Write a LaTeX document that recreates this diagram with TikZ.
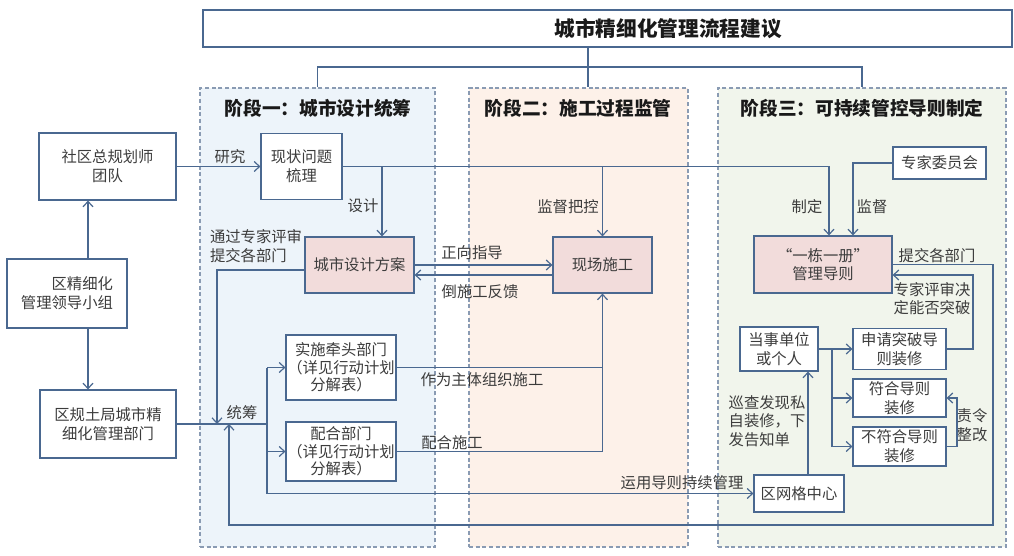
\documentclass[tikz,border=0pt]{standalone}
\usepackage{fontspec}
\setmainfont{Noto Sans CJK SC}
\usepackage{tikz}
\usetikzlibrary{arrows.meta}
\definecolor{lineblue}{HTML}{4A6890}
\definecolor{dashgrey}{HTML}{8A9BB3}
\definecolor{txtgrey}{HTML}{3C3C3C}
\definecolor{boxpink}{HTML}{F2DCDB}
\definecolor{stageblue}{HTML}{EDF4FA}
\definecolor{stagepeach}{HTML}{FDF1E9}
\definecolor{stagegreen}{HTML}{F1F5EC}

\begin{document}
\begin{tikzpicture}
[%%%%%%%%%%%%%%%%%%%%%%%%%%%%%%
x=0.75pt, y=-0.75pt,
every node/.style={text=txtgrey, font=\fontsize{11.5}{14}\selectfont},
box/.style={rectangle, draw=lineblue, line width=0.9pt, fill=white, align=center, inner sep=0pt},
pinkbox/.style={box, fill=boxpink},
tight/.style={font=\fontsize{11.5}{13}\selectfont},
stage/.style={rectangle, draw=dashgrey, dash pattern=on 3pt off 2pt, line width=0.8pt, inner sep=0pt, minimum width=#1, minimum height=344.25pt},
head/.style={font=\fontsize{14}{16}\selectfont\bfseries, text=black!90},
lbl/.style={align=left, inner sep=0pt},
link/.style={draw=lineblue, line width=0.9pt},
arr/.style={link, -{Straight Barb[length=4pt,width=7.5pt]}},
]%%%%%%%%%%%%%%%%%%%%%%%%%%%%%%

\useasboundingbox (0,0) rectangle (1014,556);

% stages
\node[stage=176.25pt, fill=stageblue] (p1) at (317.5,317.5) {};
\node[stage=164.25pt, fill=stagepeach] (p2) at (578.5,317.5) {};
\node[stage=216pt, fill=stagegreen] (p3) at (862,317.5) {};
\node[head] (h1) at (318,108) {阶段一：城市设计统筹};
\node[head] (h2) at (578,108) {阶段二：施工过程监管};
\node[head] (h3) at (862,108) {阶段三：可持续管控导则制定};

% title
\node[box, minimum width=606.75pt, minimum height=27.75pt] (titlebox) at (607.5,28.5) {};
\node[head, font=\fontsize{15.5}{17}\selectfont\bfseries] (title) at (668,29) {城市精细化管理流程建议};

% boxes
\node[box, minimum width=102.75pt, minimum height=50.25pt] (team) at (107.5,166.5) {社区总规划师\\团队};
\node[box, align=right, minimum width=90pt, minimum height=51.75pt] (lead) at (67,293.5) {区精细化\\管理领导小组};
\node[box, minimum width=102pt, minimum height=51pt] (bureau) at (108,424) {区规土局城市精\\细化管理部门};
\node[box, minimum width=60.75pt, minimum height=49.5pt] (issue) at (301.5,166.5) {现状问题\\梳理};
\node[pinkbox, minimum width=81.75pt, minimum height=42pt] (design) at (359.5,265) {城市设计方案};
\node[pinkbox, minimum width=74.25pt, minimum height=42pt] (site) at (602.5,265) {现场施工};
\node[box, tight, minimum width=82.5pt, minimum height=48.75pt] (qiantou) at (341,367.5) {实施牵头部门\\（详见行动计划\\分解表）};
\node[box, tight, minimum width=82.5pt, minimum height=44.25pt] (peihe) at (341,451.5) {配合部门\\（详见行动计划\\分解表）};
\node[box, minimum width=69.75pt, minimum height=24pt] (expert) at (939.5,163) {专家委员会};
\node[pinkbox, minimum width=103.5pt, minimum height=42.75pt] (guide) at (823,264.5) {“一栋一册”\\管理导则};
\node[box, minimum width=58.5pt, minimum height=33pt] (party) at (779,349) {当事单位\\或个人};
\node[box, minimum width=69.75pt, minimum height=30.75pt] (apply) at (899.5,349) {申请突破导\\则装修};
\node[box, minimum width=69.75pt, minimum height=28.5pt] (comply) at (899.5,398) {符合导则\\装修};
\node[box, minimum width=69.75pt, minimum height=29.25pt] (noncomply) at (899.5,446.5) {不符合导则\\装修};
\node[box, minimum width=67.5pt, minimum height=27.75pt] (grid) at (799,493.5) {区网格中心};

% labels
\node[lbl] (tYanjiu) at (230,157) {研究};
\node[lbl] (tSheji) at (363,206) {设计};
\node[lbl] (tTongguo) at (256,246) {通过专家评审\\提交各部门};
\node[lbl] (tTongchou) at (242,413) {统筹};
\node[lbl] (tZhengxiang) at (472,253) {正向指导};
\node[lbl] (tFankui) at (480,292) {倒施工反馈};
\node[lbl] (tJiandu) at (568,207) {监督把控};
\node[lbl] (tZhuti) at (482,380) {作为主体组织施工};
\node[lbl] (tPeihe) at (452,443) {配合施工};
\node[lbl] (tYunyong) at (682,483) {运用导则持续管理};
\node[lbl] (tZhiding) at (807,207) {制定};
\node[lbl] (tJianduB) at (872,207) {监督};
\node[lbl] (tTijiao) at (937,256) {提交各部门};
\node[lbl] (tPingshen) at (932,298.5) {专家评审决\\定能否突破};
\node[lbl] (tXuncha) at (767,421) {巡查发现私\\自装修，下\\发告知单};
\node[lbl] (tZeling) at (972,425) {责令\\整改};

% connectors
\coordinate (tb) at (588,67);
\draw[link] (titlebox.south -| tb) -- (p2.north -| tb);
\draw[link] (p1.north) |- (tb) -| (p3.north);

\coordinate (lx) at (88,0);
\draw[arr] (lead.north -| lx) -- (team.south -| lx);
\draw[arr] (lead.south -| lx) -- (bureau.north -| lx);
\draw[arr] (team.east) -- (issue.west);

\coordinate (sx) at (382,0);
\coordinate (zx) at (829,0);
\coordinate (jx) at (853,0);
\draw[arr] (issue.east) -| (guide.north -| zx);
\draw[arr] (issue.east -| sx) -- (design.north -| sx);
\draw[arr] (issue.east -| site.north) -- (site.north);
\draw[arr] (expert.west) -| (guide.north -| jx);

\coordinate (fy) at (0,265);
\coordinate (by) at (0,275);
\draw[arr] (design.east |- fy) -- (site.west |- fy);
\draw[arr] (site.west |- by) -- (design.east |- by);

\coordinate (dy) at (0,270);
\coordinate (hubA) at (217,424);
\coordinate (hubB) at (229,424);
\draw[arr] (design.west |- dy) -| (hubA);

\coordinate (tx) at (267,0);
\draw[link] (bureau.east) -- (bureau.east -| tx);
\draw[link] (qiantou.west -| tx) -- (grid.west -| tx);
\draw[arr] (qiantou.west -| tx) -- (qiantou.west);
\draw[arr] (peihe.west -| tx) -- (peihe.west);
\draw[arr] (grid.west -| tx) -- (grid.west);

\draw[link] (peihe.east) -| (site.south |- qiantou.east);
\draw[arr] (qiantou.east) -| (site.south);

\coordinate (rx) at (993,525);
\draw[arr] (guide.east) -| (rx) -| (hubB);

\coordinate (ey) at (973,275);
\draw[arr] (apply.east) -| (ey) -- (guide.east |- ey);

\coordinate (fx) at (832,0);
\draw[link] (party.east) -- (party.east -| fx) -- (noncomply.west -| fx);
\draw[arr] (party.east -| fx) -- (apply.west);
\draw[arr] (comply.west -| fx) -- (comply.west);
\draw[arr] (noncomply.west -| fx) -- (noncomply.west);

\coordinate (gx) at (808,0);
\draw[arr] (grid.north -| gx) -- (party.south -| gx);

\coordinate (zy) at (957,0);
\draw[arr] (noncomply.east) -| (comply.east -| zy) -- (comply.east);
\end{tikzpicture}
\end{document}
